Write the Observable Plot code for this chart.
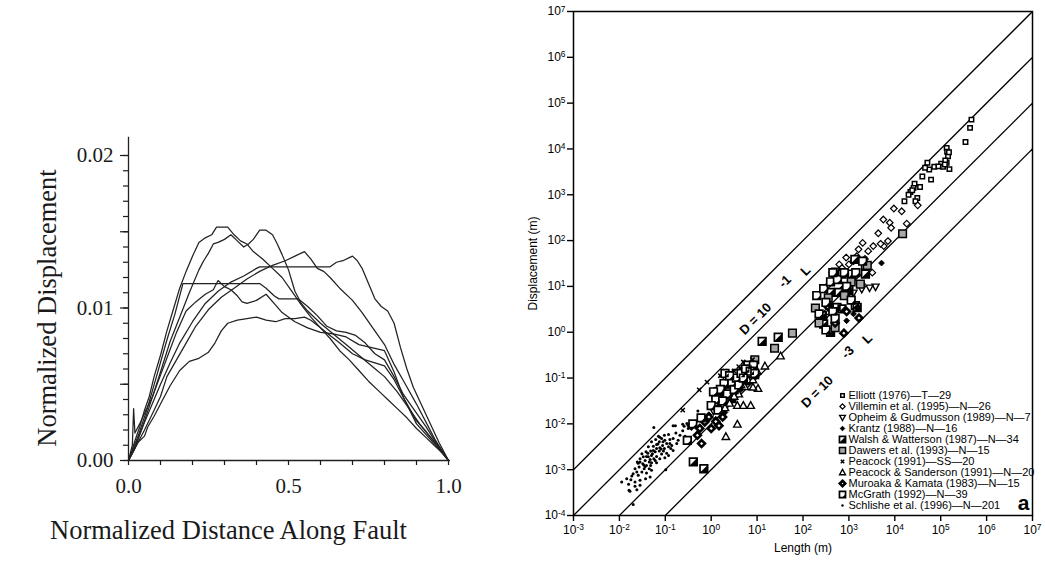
<!DOCTYPE html>
<html><head><meta charset="utf-8">
<script src="https://cdn.jsdelivr.net/npm/d3@7"></script>
<script src="https://cdn.jsdelivr.net/npm/@observablehq/plot@0.6"></script>
<style>
html,body{margin:0;padding:0;background:#fff;}
#wrap{position:relative;width:1045px;height:562px;overflow:hidden;background:#fff;}
#wrap > svg{position:absolute;overflow:visible;}
</style></head><body><div id="wrap"></div>
<script>
// ================= LEFT PANEL DATA (normalized distance, normalized displacement) =================
const leftXTicks = [0, 0.1, 0.2, 0.3, 0.4, 0.5, 0.6, 0.7, 0.8, 0.9, 1.0];
const leftXLabels = {"0": "0.0", "0.5": "0.5", "1": "1.0"};
const leftYMinorTicks = [0,0.001,0.002,0.003,0.004,0.005,0.006,0.007,0.008,0.009,0.01,0.011,0.012,0.013,0.014,0.015,0.016,0.017,0.018,0.019,0.02];
const leftYMajorTicks = [0, 0.005, 0.01, 0.015, 0.02];
const leftYLabels = {"0": "0.00", "0.01": "0.01", "0.02": "0.02"};

const profileA = [[0,0],[0.01,0.0006],[0.02,0.0013],[0.035,0.0022],[0.05,0.0033],[0.065,0.0042],[0.08,0.0055],[0.10,0.0069],[0.12,0.0085],[0.14,0.0099],[0.16,0.0113],[0.18,0.0124],[0.20,0.0134],[0.22,0.0143],[0.24,0.0146],[0.26,0.0148],[0.275,0.0153],[0.31,0.0153],[0.33,0.0148],[0.35,0.0144],[0.37,0.0142],[0.39,0.0137],[0.42,0.0132],[0.45,0.0126],[0.48,0.0120],[0.51,0.0111],[0.54,0.0102],[0.57,0.0094],[0.60,0.0087],[0.63,0.0080],[0.66,0.0072],[0.69,0.0066],[0.72,0.0059],[0.75,0.0052],[0.78,0.0046],[0.81,0.0040],[0.84,0.0034],[0.87,0.0028],[0.90,0.0021],[0.93,0.0015],[0.96,0.0009],[0.98,0.0005],[1.0,0]];
const profileB = [[0,0],[0.02,0.0008],[0.05,0.0026],[0.08,0.0045],[0.10,0.0058],[0.13,0.0078],[0.16,0.0094],[0.19,0.0110],[0.22,0.0125],[0.235,0.0131],[0.25,0.0136],[0.265,0.0142],[0.28,0.0143],[0.30,0.0145],[0.32,0.0148],[0.34,0.0144],[0.36,0.0140],[0.375,0.0142],[0.39,0.0145],[0.41,0.0151],[0.43,0.0151],[0.45,0.0148],[0.465,0.0142],[0.48,0.0135],[0.50,0.0125],[0.52,0.0111],[0.54,0.0103],[0.56,0.0098],[0.60,0.0090],[0.64,0.0083],[0.68,0.0076],[0.72,0.0069],[0.76,0.0062],[0.80,0.0055],[0.84,0.0045],[0.88,0.0033],[0.91,0.0024],[0.94,0.0016],[0.97,0.0009],[1.0,0]];
const profileC = [[0,0],[0.02,0.0008],[0.05,0.0020],[0.08,0.0033],[0.10,0.0042],[0.12,0.0055],[0.15,0.0066],[0.18,0.0077],[0.21,0.0088],[0.25,0.0099],[0.29,0.0107],[0.33,0.0113],[0.37,0.0119],[0.41,0.0124],[0.45,0.0128],[0.49,0.0131],[0.52,0.0134],[0.55,0.0137],[0.57,0.0132],[0.59,0.0126],[0.61,0.0124],[0.63,0.0120],[0.66,0.0113],[0.70,0.0105],[0.73,0.0097],[0.76,0.0088],[0.80,0.0076],[0.83,0.0063],[0.86,0.0052],[0.90,0.0037],[0.93,0.0025],[0.96,0.0013],[1.0,0]];
const profileD = [[0,0],[0.02,0.0009],[0.05,0.0025],[0.08,0.0040],[0.10,0.0050],[0.13,0.0064],[0.16,0.0077],[0.20,0.0091],[0.24,0.0103],[0.28,0.0111],[0.32,0.0117],[0.36,0.0121],[0.40,0.0126],[0.41,0.0127],[0.63,0.0127],[0.65,0.0130],[0.67,0.0131],[0.69,0.0133],[0.70,0.0134],[0.715,0.0131],[0.73,0.0126],[0.75,0.0116],[0.77,0.0106],[0.79,0.0101],[0.81,0.0098],[0.83,0.0090],[0.85,0.0074],[0.87,0.0060],[0.89,0.0048],[0.91,0.0039],[0.93,0.0030],[0.95,0.0021],[0.97,0.0012],[1.0,0]];
const profileE = [[0,0],[0.015,0.0008],[0.03,0.0016],[0.06,0.0035],[0.09,0.0057],[0.12,0.0079],[0.145,0.0096],[0.16,0.0108],[0.17,0.0116],[0.41,0.0116],[0.43,0.0113],[0.455,0.0108],[0.47,0.0106],[0.53,0.0106],[0.56,0.0101],[0.59,0.0095],[0.62,0.0088],[0.65,0.0085],[0.68,0.0084],[0.71,0.0082],[0.74,0.0077],[0.77,0.0070],[0.80,0.0066],[0.83,0.0055],[0.86,0.0043],[0.90,0.0031],[0.93,0.0022],[0.96,0.0012],[1.0,0]];
const profileF = [[0,0],[0.015,0.0006],[0.03,0.0012],[0.05,0.0016],[0.06,0.0022],[0.08,0.0029],[0.10,0.0037],[0.13,0.0049],[0.16,0.0059],[0.19,0.0065],[0.22,0.0067],[0.25,0.0071],[0.27,0.0077],[0.29,0.0085],[0.31,0.0090],[0.34,0.0092],[0.37,0.0093],[0.40,0.0094],[0.43,0.0092],[0.46,0.0091],[0.49,0.0093],[0.52,0.0093],[0.55,0.0094],[0.57,0.0092],[0.60,0.0087],[0.63,0.0082],[0.66,0.0077],[0.70,0.0070],[0.74,0.0066],[0.77,0.0064],[0.80,0.0062],[0.83,0.0053],[0.86,0.0041],[0.90,0.0024],[0.93,0.0017],[0.96,0.0010],[1.0,0]];
const profileG = [[0,0],[0.012,0.0010],[0.016,0.0034],[0.02,0.0018],[0.035,0.0024],[0.05,0.0031],[0.075,0.0042],[0.10,0.0056],[0.125,0.0070],[0.15,0.0084],[0.18,0.0098],[0.21,0.0104],[0.24,0.0109],[0.265,0.0112],[0.28,0.0118],[0.30,0.0114],[0.32,0.0112],[0.34,0.0108],[0.355,0.0104],[0.37,0.0103],[0.40,0.0105],[0.43,0.0109],[0.455,0.0103],[0.48,0.0097],[0.52,0.0091],[0.56,0.0087],[0.60,0.0084],[0.64,0.0083],[0.68,0.0081],[0.72,0.0076],[0.76,0.0074],[0.80,0.0072],[0.83,0.0058],[0.86,0.0041],[0.90,0.0026],[0.93,0.0019],[0.96,0.0011],[1.0,0]];

// ================= RIGHT PANEL DATA: [log10 Length (m), log10 Displacement (m)] =================
const lengthExponents = [-3,-2,-1,0,1,2,3,4,5,6,7];
const displacementExponents = [-4,-3,-2,-1,0,1,2,3,4,5,6,7];
const guideRatios = [1, 0.1, 0.01, 0.001];

const seriesNames = [
  "Elliott (1976)—T—29",
  "Villemin et al. (1995)—N—26",
  "Opheim & Gudmusson (1989)—N—7",
  "Krantz (1988)—N—16",
  "Walsh & Watterson (1987)—N—34",
  "Dawers et al. (1993)—N—15",
  "Peacock (1991)—SS—20",
  "Peacock & Sanderson (1991)—N—20",
  "Muroaka & Kamata (1983)—N—15",
  "McGrath (1992)—N—39",
  "Schlishe et al. (1996)—N—201"
];

const elliottLog = [[5.67,4.64],[5.64,4.46],[5.54,4.15],[5.13,4.02],[5.14,3.94],[5.16,3.84],[5.01,3.68],[5.13,3.70],[5.05,3.61],[5.19,3.56],[4.71,3.70],[4.75,3.55],[4.86,3.61],[4.79,3.33],[4.55,3.17],[4.43,3.24],[4.34,3.06],[4.41,3.15],[4.21,2.86],[4.49,2.93],[4.45,2.86],[4.66,3.59],[4.30,3.00],[4.60,3.40],[5.10,3.75],[4.95,3.62],[5.18,3.93],[4.38,3.10],[5.09,3.66]];
const villeminLog = [[3.98,2.70],[4.15,2.64],[4.50,2.77],[4.26,2.37],[3.75,2.46],[3.89,2.39],[3.92,2.28],[3.64,2.16],[3.53,1.88],[3.85,1.99],[3.76,1.88],[3.21,1.81],[3.42,1.77],[2.94,1.63],[3.17,1.66],[2.79,1.48],[2.64,1.30],[3.00,1.48],[3.51,1.30],[2.53,1.01],[3.35,1.60],[3.69,1.93],[3.30,1.95],[2.70,1.18],[3.10,1.55],[2.85,1.40]];
const opheimLog = [[3.58,0.99],[3.28,0.94],[3.10,0.86],[3.45,0.97],[2.49,0.33],[0.05,-1.72],[0.45,-1.35]];
const krantzLog = [[3.71,1.51],[3.30,1.05],[3.00,0.75],[2.85,0.95],[2.60,0.60],[3.10,0.40],[2.95,0.25],[0.40,-1.40],[0.65,-1.25],[0.80,-1.10],[0.20,-1.55],[0.95,-0.95],[0.55,-1.05],[-0.05,-1.80],[0.30,-1.75],[0.10,-1.90]];
const walshLog = [[-0.39,-2.83],[-0.16,-2.98],[1.11,-0.20],[1.46,-0.11],[0.10,-1.60],[0.20,-1.45],[0.30,-1.30],[0.40,-1.20],[0.50,-1.10],[0.60,-0.95],[0.70,-0.85],[0.80,-0.75],[0.90,-0.80],[0.35,-1.05],[0.55,-0.90],[0.15,-1.30],[0.75,-1.05],[0.45,-1.45],[2.71,1.31],[2.85,1.27],[3.07,1.27],[2.60,0.87],[2.78,0.87],[3.00,0.91],[3.36,1.45],[3.36,1.27],[2.74,0.54],[2.85,0.51],[3.14,0.58],[2.42,0.36],[2.45,0.18],[2.60,0.00],[3.18,0.54],[3.13,1.59]];
const dawersLog = [[1.38,-0.35],[1.77,-0.02],[4.17,2.15],[3.40,1.46],[2.27,0.53],[2.55,0.75],[2.90,0.80],[3.05,1.10],[2.35,0.20],[0.60,-1.05],[0.85,-0.80],[0.40,-1.30],[2.70,0.10],[3.25,1.05],[0.95,-0.60]];
const peacockLog = [[-0.62,-1.70],[-0.26,-1.26],[-0.09,-1.09],[0.10,-1.25],[0.25,-1.15],[0.35,-0.95],[0.50,-0.85],[0.60,-0.75],[0.20,-0.95],[0.70,-0.65],[0.85,-0.70],[0.40,-1.30],[0.15,-1.50],[0.05,-1.40],[0.55,-1.20],[0.75,-0.95],[0.30,-0.85],[0.65,-1.05],[0.90,-0.60],[0.45,-1.05]];
const peacockSandersonLog = [[0.32,-2.28],[0.57,-2.01],[0.57,-1.60],[0.70,-1.60],[0.86,-1.60],[1.02,-1.23],[0.91,-1.20],[1.17,-0.74],[1.51,-0.52],[0.73,-1.19],[0.80,-1.04],[0.91,-1.04],[0.60,-1.35],[0.50,-1.40],[0.85,-0.85],[0.95,-0.95],[0.65,-1.15],[0.40,-1.55],[0.30,-1.65],[1.00,-0.85]];
const muroakaLog = [[3.22,0.31],[0.17,-2.04],[-0.21,-2.43],[-0.43,-2.04],[-0.14,-1.96],[-0.30,-2.25],[0.00,-2.10],[-0.05,-1.85],[2.70,0.20],[2.95,0.45],[0.25,-1.85],[-0.25,-2.10],[2.89,-0.02],[2.55,0.55],[0.10,-1.95]];
const mcgrathLog = [[-0.52,-2.36],[-0.22,-1.87],[0.10,-1.47],[0.28,-1.12],[0.80,-0.72],[0.92,-0.72],[-0.40,-2.00],[0.00,-1.60],[0.20,-1.25],[0.35,-1.35],[0.45,-1.10],[0.55,-1.00],[0.65,-0.90],[0.75,-0.80],[0.85,-0.85],[0.95,-0.90],[0.50,-1.25],[0.60,-1.15],[0.30,-0.90],[0.40,-0.95],[0.70,-1.00],[0.15,-1.70],[0.05,-1.30],[0.25,-1.50],[2.30,0.80],[2.45,0.95],[2.60,1.10],[2.75,1.15],[2.95,1.00],[2.90,1.30],[2.50,0.65],[2.65,0.45],[3.05,0.70],[3.30,1.55],[3.15,1.30],[2.35,0.40],[2.50,0.05],[2.70,0.30],[2.65,1.30]];
const schlisheLog = [[-1.25,-2.08],[-0.83,-2.04],[-0.78,-2.04],[-0.62,-2.01],[-1.02,-2.25],[-1.15,-2.27],[-0.93,-2.23],[-1.08,-2.32],[-1.21,-2.34],[-1.30,-2.39],[-1.13,-2.39],[-1.01,-2.36],[-0.90,-2.34],[-0.97,-2.43],[-1.06,-2.47],[-1.19,-2.45],[-1.26,-2.49],[-1.37,-2.50],[-1.12,-2.52],[-1.02,-2.54],[-0.93,-2.50],[-0.86,-2.47],[-0.83,-2.58],[-1.13,-2.59],[-1.22,-2.61],[-1.32,-2.59],[-1.42,-2.61],[-1.51,-2.65],[-1.41,-2.71],[-1.30,-2.69],[-1.19,-2.71],[-1.08,-2.66],[-0.97,-2.64],[-1.01,-2.74],[-1.12,-2.76],[-1.22,-2.80],[-1.33,-2.78],[-1.44,-2.80],[-1.55,-2.76],[-1.61,-2.83],[-1.49,-2.87],[-1.41,-2.91],[-1.30,-2.85],[-1.19,-2.85],[-1.35,-2.98],[-1.46,-2.98],[-1.57,-2.94],[-1.66,-2.98],[-1.51,-3.05],[-1.41,-3.07],[-1.30,-3.01],[-1.59,-3.12],[-1.70,-3.09],[-1.75,-3.22],[-1.84,-3.20],[-1.66,-3.27],[-1.55,-3.23],[-1.43,-3.20],[-1.33,-3.16],[-1.80,-3.32],[-1.66,-3.36],[-1.55,-3.34],[-1.77,-3.47],[-1.62,-3.44],[-1.95,-3.27],[-1.79,-3.45],[-1.70,-3.76],[-0.99,-3.00],[-0.88,-2.54],[-0.75,-2.43],[-0.83,-2.32],[-0.72,-2.36],[-0.68,-2.25],[-0.57,-2.27],[-0.77,-2.20],[-0.62,-2.15],[-0.50,-2.10],[-0.43,-1.96],[-1.26,-2.58],[-1.19,-2.54],[-1.28,-2.65],[-1.37,-2.72],[-1.48,-2.72],[-1.04,-2.59],[-0.93,-2.69],[-1.25,-2.76],[-1.35,-2.83],[-1.44,-2.93],[-1.55,-2.83],[-1.62,-3.05],[-1.73,-3.14],[-1.12,-2.29],[-1.05,-2.39],[-0.90,-2.43],[-1.32,-2.91],[-1.59,-2.86],[-0.59,-2.05],[-0.53,-1.99],[-0.29,-1.72],[-1.16,-2.44],[-1.09,-2.55],[-1.38,-2.64],[-1.47,-2.90]];

const seriesData = [elliottLog, villeminLog, opheimLog, krantzLog, walshLog, dawersLog, peacockLog, peacockSandersonLog, muroakaLog, mcgrathLog, schlisheLog];

// ================= SYMBOLS / STYLES =================
const SQ = {draw(c, s){const h=Math.sqrt(s)/2; c.moveTo(-h,-h); c.lineTo(h,-h); c.lineTo(h,h); c.lineTo(-h,h); c.closePath();}};
const DIA = {draw(c, s){const h=Math.sqrt(s)*0.62; c.moveTo(0,-h); c.lineTo(h,0); c.lineTo(0,h); c.lineTo(-h,0); c.closePath();}};
const TUP = {draw(c, s){const h=Math.sqrt(s)/2; c.moveTo(0,-h*1.1); c.lineTo(h*1.05,h*0.8); c.lineTo(-h*1.05,h*0.8); c.closePath();}};
const TDN = {draw(c, s){const h=Math.sqrt(s)/2; c.moveTo(0,h*1.1); c.lineTo(h*1.05,-h*0.8); c.lineTo(-h*1.05,-h*0.8); c.closePath();}};
const HALF = {draw(c, s){const h=Math.sqrt(s)/2; c.moveTo(h,-h); c.lineTo(h,h); c.lineTo(-h,h); c.closePath();}};
const CORNER = {draw(c, s){const h=Math.sqrt(s)/2; c.moveTo(h,-0.1*h); c.lineTo(h,h); c.lineTo(-0.1*h,h); c.closePath();}};
const TIMES = {draw(c, s){const h=Math.sqrt(s)/2; c.moveTo(-h,-h); c.lineTo(h,h); c.moveTo(h,-h); c.lineTo(-h,h);}};

const seriesStyles = [
  [{symbol:SQ, r:2.5, fill:"white", stroke:"black", strokeWidth:1.5}],
  [{symbol:DIA, r:3.0, fill:"white", stroke:"black", strokeWidth:1.2}],
  [{symbol:TDN, r:3.8, fill:"white", stroke:"black", strokeWidth:1.4}],
  [{symbol:DIA, r:2.6, fill:"black", stroke:"black", strokeWidth:1}],
  [{symbol:SQ, r:4.3, fill:"white", stroke:"black", strokeWidth:1.7},{symbol:HALF, r:4.3, fill:"black"}],
  [{symbol:SQ, r:4.3, fill:"#a8a8a8", stroke:"black", strokeWidth:1.5}],
  [{symbol:TIMES, r:2.4, fill:"none", stroke:"black", strokeWidth:1.5}],
  [{symbol:TUP, r:4.0, fill:"white", stroke:"black", strokeWidth:1.4}],
  [{symbol:DIA, r:3.1, fill:"white", stroke:"black", strokeWidth:2.6}],
  [{symbol:SQ, r:4.3, fill:"white", stroke:"black", strokeWidth:1.7},{symbol:CORNER, r:4.3, fill:"black"}],
  [{symbol:"circle", r:1.5, fill:"black"}]
];

const wrap = document.getElementById("wrap");
function place(el, left, top){ el.style.left = left + "px"; el.style.top = top + "px"; wrap.appendChild(el); }

// ================= LEFT PANEL =================
const profiles = [profileA, profileB, profileC, profileD, profileE, profileF, profileG];
const leftPlot = Plot.plot({
  width: 480, height: 562,
  marginLeft: 128, marginRight: 32, marginTop: 155, marginBottom: 102,
  style: {fontFamily: "'Liberation Serif','Times New Roman',serif", fontSize: "21px", background: "white", color: "#1a1a1a"},
  x: {domain: [0, 1]},
  y: {domain: [0, 0.02]},
  marks: [
    Plot.ruleX([0], {y1: 0, y2: 0.0212, stroke: "#222", strokeWidth: 1.3}),
    Plot.ruleY([0], {x1: 0, x2: 1.006, stroke: "#222", strokeWidth: 1.3}),
    Plot.axisX({ticks: leftXTicks, tickSize: 5, tickPadding: 13, tickFormat: d => leftXLabels[String(d)] ?? "", label: null, strokeWidth: 1.2}),
    Plot.axisY({ticks: leftYMinorTicks, tickSize: 5, tickFormat: () => "", label: null, strokeWidth: 1.2}),
    Plot.axisY({ticks: leftYMajorTicks, tickSize: 8, tickPadding: 7, tickFormat: d => leftYLabels[String(d)] ?? "", label: null, strokeWidth: 1.2}),
    ...profiles.map(p => Plot.line(p, {x: d => d[0], y: d => d[1], stroke: "#222", strokeWidth: 1.25})),
    Plot.text(["Normalized Distance Along Fault"], {text: d => d, frameAnchor: "bottom", textAnchor: "middle", dx: -60, dy: 78, fontSize: 26.5}),
    Plot.text(["Normalized Displacement"], {text: d => d, frameAnchor: "left", textAnchor: "middle", dx: -81, rotate: -90, fontSize: 26.5})
  ]
});
place(leftPlot, 0, 0);

// ================= RIGHT PANEL =================
const supFmt = d => "10^" + Math.round(Math.log10(d));
const pts = arr => arr.map(([lx, ly]) => ({L: Math.pow(10, lx), D: Math.pow(10, ly)}));
const drawOrder = [10, 0, 1, 2, 3, 4, 5, 6, 7, 8, 9];
const pointMarks = drawOrder.flatMap(i => seriesStyles[i].map(st => Plot.dot(pts(seriesData[i]), {x: "L", y: "D", ...st})));

// rotated guide-line labels (anchored on the guide lines)
const lab = (ratio, logL, txt, dx, dy) =>
  Plot.text([{L: Math.pow(10, logL), D: ratio * Math.pow(10, logL)}], {
    x: "L", y: "D", text: () => txt, rotate: -45, textAnchor: "start", lineAnchor: "bottom",
    dx, dy, fontSize: 13, fontWeight: "bold"
  });

const rightPlot = Plot.plot({
  width: 565, height: 562,
  marginLeft: 93, marginRight: 13, marginTop: 11, marginBottom: 47,
  style: {fontFamily: "'Liberation Sans',Arial,sans-serif", fontSize: "12px", background: "transparent", color: "black"},
  x: {type: "log", domain: [1e-3, 1e7]},
  y: {type: "log", domain: [1e-4, 1e7]},
  marks: [
    Plot.link(guideRatios, {x1: () => 1e-3, x2: () => 1e7, y1: c => 1e-3 * c, y2: c => 1e7 * c, stroke: "black", strokeWidth: 1.3, clip: true}),
    ...pointMarks,
    Plot.frame({stroke: "black", strokeWidth: 1.5}),
    Plot.axisX({ticks: lengthExponents.map(k => Math.pow(10, k)), tickSize: 6, tickPadding: 4, tickFormat: supFmt, label: null, strokeWidth: 1.4}),
    Plot.axisY({ticks: displacementExponents.map(k => Math.pow(10, k)), tickSize: 6, tickPadding: 2, tickFormat: supFmt, label: null, strokeWidth: 1.4}),
    lab(0.1, 0.71, "D = 10", 1, -10),
    lab(0.1, 0.71, "-1", 40, -57),
    lab(0.1, 0.71, "L", 62, -69),
    lab(0.001, 1.49, "D = 10", 27, 7),
    lab(0.001, 1.49, "-3", 67, -42),
    lab(0.001, 1.49, "L", 88, -57),
    Plot.text(["Displacement (m)"], {text: d => d, frameAnchor: "left", textAnchor: "middle", dx: -40, rotate: -90, fontSize: 12}),
    Plot.text(["Length (m)"], {text: d => d, frameAnchor: "bottom", textAnchor: "middle", dy: 36, fontSize: 12}),
    Plot.text(["a"], {text: d => d, frameAnchor: "bottom-right", dx: -3, dy: -6, textAnchor: "end", lineAnchor: "bottom", fontSize: 21, fontWeight: "bold"})
  ]
});
// render "10^k" tick labels with a raised exponent
rightPlot.querySelectorAll("text").forEach(t => {
  const m = /^10\^(-?\d+)$/.exec(t.textContent);
  if (m) {
    t.textContent = "10";
    const ts = document.createElementNS("http://www.w3.org/2000/svg", "tspan");
    ts.setAttribute("dy", "-0.45em");
    ts.setAttribute("font-size", "0.7em");
    ts.textContent = m[1];
    t.appendChild(ts);
  }
});
place(rightPlot, 480, 0);

// ================= LEGEND (inside right frame) =================
const legendPlot = Plot.plot({
  width: 195, height: 125, margin: 0,
  style: {fontFamily: "'Liberation Sans',Arial,sans-serif", fontSize: "11px", background: "transparent", color: "black"},
  x: {domain: [0, 1], axis: null},
  y: {type: "point", domain: seriesNames, range: [6, 117], padding: 0, axis: null},
  marks: [
    ...seriesNames.flatMap((name, i) => seriesStyles[i].map(st => Plot.dot([name], {y: d => d, frameAnchor: "left", dx: 7, ...st, r: st.r * 0.8}))),
    Plot.text(seriesNames, {y: d => d, text: d => d, frameAnchor: "left", dx: 13, textAnchor: "start", fontSize: 11})
  ]
});
place(legendPlot, 835, 388);
</script></body></html>
